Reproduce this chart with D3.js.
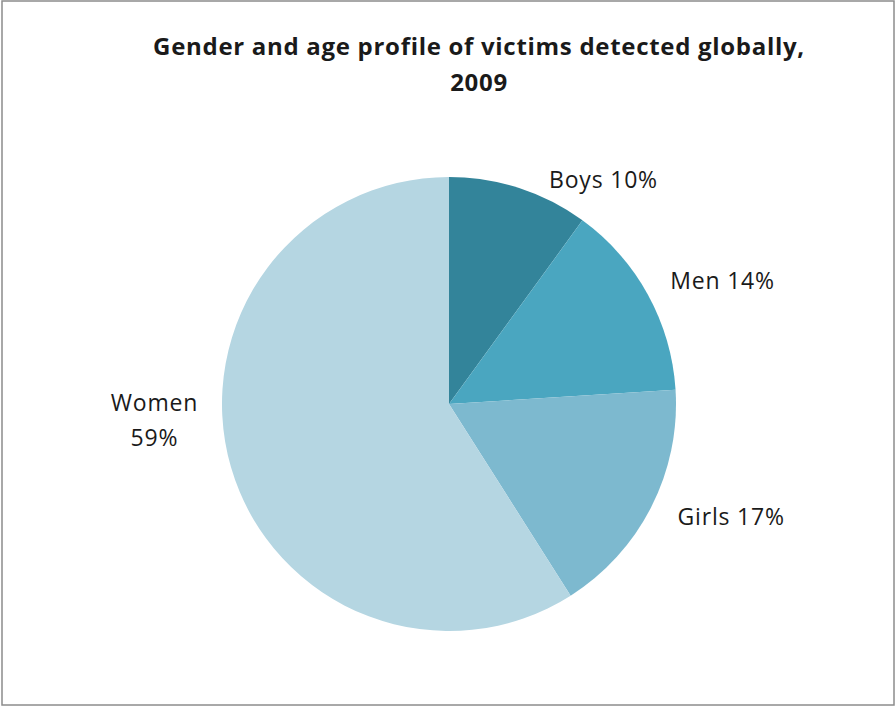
<!DOCTYPE html>
<html>
<head>
<meta charset="utf-8">
<script src="https://cdn.jsdelivr.net/npm/d3@7/dist/d3.min.js"></script>
<style>
  html, body { margin: 0; padding: 0; background: #fff; }
  svg { display: block; }
  text { font-family: "Open Sans", "Lato", "Noto Sans", sans-serif; fill: #1a1a1a; }
</style>
</head>
<body>
<svg id="chart" width="896" height="708"></svg>
<script>
// Victims detected globally in 2009, by gender and age (percent)
const categories = ["Boys", "Men", "Girls", "Women"];
const shares = [10, 14, 17, 59];
const sliceColors = ["#33849a", "#4aa6c0", "#7db9cf", "#b5d6e2"];
const titleLines = ["Gender and age profile of victims detected globally,", "2009"];

// label placement: angle along the slice (fraction of slice) and distance from centre
const labelLayout = [
  { radius: 272, angleShift: 0.29, lines: 1 },
  { radius: 300, angleShift: 0.08, lines: 1 },
  { radius: 304, angleShift: -0.09, lines: 1 },
  { radius: 295, angleShift: 0.23, lines: 2 }
];

const width = 896, height = 708;
const cx = 449, cy = 404, R = 227;

const svg = d3.select("#chart");

// outer frame
svg.append("rect")
  .attr("x", 2).attr("y", 1)
  .attr("width", width - 4).attr("height", height - 4)
  .attr("fill", "#fff")
  .attr("stroke", "#8c8c8c")
  .attr("stroke-width", 1.5);

// title
svg.append("g").selectAll("text")
  .data(titleLines)
  .join("text")
  .attr("x", 479)
  .attr("y", (d, i) => 55 + i * 36)
  .attr("text-anchor", "middle")
  .attr("font-size", 24)
  .attr("font-weight", "bold")
  .attr("letter-spacing", 0.7)
  .text(d => d);

const data = categories.map((c, i) => ({ name: c, value: shares[i], color: sliceColors[i] }));

const pie = d3.pie().sort(null).value(d => d.value).startAngle(0).endAngle(2 * Math.PI);
const arcs = pie(data);
const arc = d3.arc().innerRadius(0).outerRadius(R);

const g = svg.append("g").attr("transform", `translate(${cx},${cy})`);

g.selectAll("path")
  .data(arcs)
  .join("path")
  .attr("d", arc)
  .attr("fill", d => d.data.color);

// data labels
const labels = g.append("g");
arcs.forEach((a, i) => {
  const L = labelLayout[i];
  const mid = (a.startAngle + a.endAngle) / 2 + L.angleShift;
  const x = L.radius * Math.sin(mid);
  const y = -L.radius * Math.cos(mid);
  const t = labels.append("text")
    .attr("x", x).attr("y", y)
    .attr("text-anchor", "middle")
    .attr("font-size", 23)
    .attr("letter-spacing", 0.8);
  if (L.lines === 2) {
    t.append("tspan").attr("x", x).attr("dy", "-0.37em").text(a.data.name);
    t.append("tspan").attr("x", x).attr("dy", "1.52em").text(a.data.value + "%");
  } else {
    t.attr("dy", "0.35em").text(a.data.name + " " + a.data.value + "%");
  }
});
</script>
</body>
</html>
